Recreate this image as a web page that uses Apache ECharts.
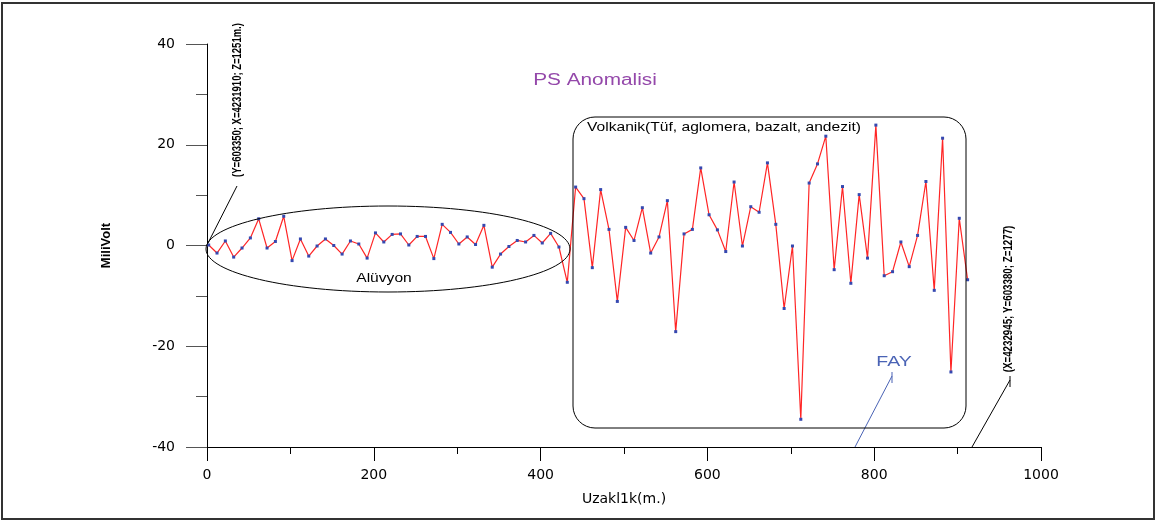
<!DOCTYPE html>
<html>
<head>
<meta charset="utf-8">
<script src="https://cdn.jsdelivr.net/npm/echarts@6/dist/echarts.min.js"></script>
<style>
  html, body { margin: 0; padding: 0; background: #fff; }
  #chart { width: 1157px; height: 522px; }
</style>
</head>
<body>
<div id="chart"></div>
<script>
// uzaklik (m.)
const distances = [
  2, 12, 22, 32, 42, 52, 62, 72, 82, 92,
  102, 112, 122, 132, 142, 152, 162, 172, 182, 192,
  202, 212, 222, 232, 242, 252, 262, 272, 282, 292,
  302, 312, 322, 332, 342, 352, 362, 372, 382, 392,
  402, 412, 422, 432, 442, 452, 462, 472, 482, 492,
  502, 512, 522, 532, 542, 552, 562, 572, 582, 592,
  602, 612, 622, 632, 642, 652, 662, 672, 682, 692,
  702, 712, 722, 732, 742, 752, 762, 772, 782, 792,
  802, 812, 822, 832, 842, 852, 862, 872, 882, 892,
  902, 912
];
// PS degerleri (mV)
const psValues = [
  0.1, -1.5, 0.9, -2.3, -0.5, 1.5, 5.3, -0.5, 0.8, 5.8,
  -3.0, 1.3, -2.1, -0.1, 1.3, 0, -1.7, 0.9, 0.3, -2.5,
  2.5, 0.7, 2.2, 2.3, 0.1, 1.8, 1.8, -2.6, 4.2, 2.6,
  0.3, 1.7, 0.2, 4.0, -4.3, -1.7, -0.2, 1.0, 0.7, 2.0,
  0.5, 2.4, -0.3, -7.3, 11.6, 9.3, -4.4, 11.1, 3.2, -11.1,
  3.6, 1.0, 7.5, -1.5, 1.7, 8.9, -17.1, 2.3, 3.2, 15.4,
  6.1, 3.1, -1.2, 12.6, -0.1, 7.7, 6.6, 16.4, 4.2, -12.5,
  -0.1, -34.5, 12.4, 16.2, 21.7, -4.8, 11.7, -7.5, 10.1, -2.5,
  23.9, -6.0, -5.2, 0.7, -4.2, 2.0, 12.7, -8.9, 21.3, -25.1,
  5.4, -6.8
];
const xTicks = [0, 200, 400, 600, 800, 1000];
const yTicks = [-40, -20, 0, 20, 40];

const FONT = "Liberation Sans, Arial, sans-serif";
const WIDE = "DejaVu Sans, Verdana, sans-serif";

const mychart = echarts.init(document.getElementById("chart"));

let option = {
  animation: false,
  backgroundColor: "#fff",
  grid: {
    left: 207,
    top: 44,
    width: 834,
    height: 403
  },
  xAxis: {
    type: "value",
    min: xTicks[0],
    max: xTicks[xTicks.length - 1],
    interval: 200,
    name: "Uzakl1k(m.)",
    nameLocation: "middle",
    nameGap: 45,
    nameTextStyle: { color: "#000", fontSize: 14, fontFamily: WIDE },
    axisLine: { onZero: false, lineStyle: { color: "#000", width: 1 } },
    axisTick: { length: 14, lineStyle: { color: "#000" } },
    minorTick: { show: true, splitNumber: 2, length: 7, lineStyle: { color: "#000" } },
    splitLine: { show: false },
    axisLabel: { color: "#000", fontSize: 14, margin: 21, fontFamily: WIDE, formatter: v => String(v) }
  },
  yAxis: {
    type: "value",
    min: yTicks[0],
    max: yTicks[yTicks.length - 1],
    interval: 20,
    name: "MiliVolt",
    nameLocation: "middle",
    nameGap: 94,
    nameTextStyle: { color: "#000", fontSize: 13, fontWeight: "bold", fontFamily: FONT },
    axisLine: { show: true, onZero: false, lineStyle: { color: "#000", width: 1 } },
    axisTick: { length: 21, lineStyle: { color: "#555" } },
    minorTick: { show: true, splitNumber: 2, length: 11, lineStyle: { color: "#555" } },
    splitLine: { show: false },
    axisLabel: { color: "#000", fontSize: 14, margin: 32, fontFamily: WIDE, formatter: v => String(v) }
  },
  series: [
    {
      name: "PS",
      type: "line",
      data: distances.map((d, i) => [d, psValues[i]]),
      symbol: "rect",
      symbolSize: 3,
      itemStyle: { color: "#3548b0" },
      lineStyle: { color: "#ff2525", width: 1.2 },
      z: 3
    }
  ],
  graphic: [
    // cerceve
    {
      type: "rect",
      shape: { x: 2, y: 3, width: 1152, height: 516 },
      style: { fill: null, stroke: "#333", lineWidth: 2 },
      silent: true
    },
    {
      type: "text",
      x: 595, y: 81, scaleX: 1.3,
      style: { text: "PS Anomalisi", fill: "#9448aa", fontSize: 16, fontFamily: FONT, align: "center", verticalAlign: "middle" }
    },
    // aluvyon elipsi
    {
      type: "ellipse",
      shape: { cx: 388, cy: 249, rx: 182, ry: 43 },
      style: { fill: null, stroke: "#000", lineWidth: 1 },
      z: 10
    },
    {
      type: "text",
      x: 384, y: 279, scaleX: 1.3,
      style: { text: "Alüvyon", fill: "#000", fontSize: 12, fontFamily: FONT, align: "center", verticalAlign: "middle" }
    },
    // volkanik kutusu
    {
      type: "rect",
      shape: { x: 573, y: 117, width: 393, height: 311, r: 22 },
      style: { fill: null, stroke: "#000", lineWidth: 1 },
      z: 10
    },
    {
      type: "text",
      x: 587, y: 128, scaleX: 1.3,
      style: { text: "Volkanik(Tüf, aglomera, bazalt, andezit)", fill: "#000", fontSize: 12, fontFamily: FONT, align: "left", verticalAlign: "middle" }
    },
    // FAY
    {
      type: "text",
      x: 894, y: 362, scaleX: 1.3,
      style: { text: "FAY", fill: "#4a63b5", fontSize: 15, fontFamily: FONT, align: "center", verticalAlign: "middle" }
    },
    {
      type: "polyline",
      shape: { points: [[892, 372], [892, 383]] },
      style: { stroke: "#4a63b5", lineWidth: 1 }
    },
    {
      type: "polyline",
      shape: { points: [[892, 376], [855, 447]] },
      style: { stroke: "#4a63b5", lineWidth: 1 }
    },
    // baslangic noktasi
    {
      type: "polyline",
      shape: { points: [[207, 245], [237, 186]] },
      style: { stroke: "#000", lineWidth: 1 }
    },
    {
      type: "text",
      x: 237, y: 100, scaleX: 0.73,
      rotation: Math.PI / 2,
      style: { text: "(Y=603350; X=4231910; Z=1251m.)", fill: "#000", fontSize: 13, fontWeight: "bold", fontFamily: FONT, align: "center", verticalAlign: "middle" }
    },
    // bitis noktasi
    {
      type: "polyline",
      shape: { points: [[1010, 376], [1010, 387]] },
      style: { stroke: "#000", lineWidth: 1 }
    },
    {
      type: "polyline",
      shape: { points: [[1010, 380], [972, 447]] },
      style: { stroke: "#000", lineWidth: 1 }
    },
    {
      type: "text",
      x: 1008, y: 299, scaleX: 0.75,
      rotation: Math.PI / 2,
      style: { text: "(X=4232945; Y=603380; Z=1277)", fill: "#000", fontSize: 13, fontWeight: "bold", fontFamily: FONT, align: "center", verticalAlign: "middle" }
    }
  ]
};
mychart.setOption(option, true);
</script>
</body>
</html>
